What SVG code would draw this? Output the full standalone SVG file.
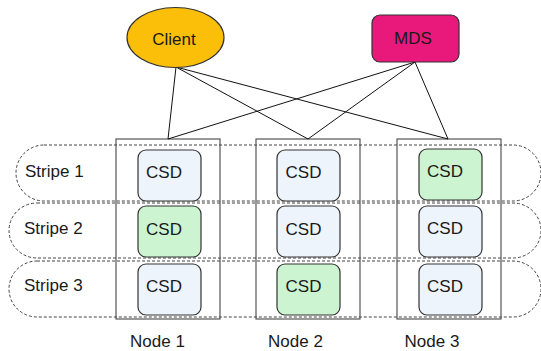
<svg xmlns="http://www.w3.org/2000/svg" width="541" height="351" viewBox="0 0 541 351">
  <style>
    text { font-family: "Liberation Sans", Arial, sans-serif; font-size: 17px; fill: #1a1a1a; }
    .node { fill: none; stroke: #555; stroke-width: 1.2; }
    .stripe { fill: none; stroke: #444; stroke-width: 1; stroke-dasharray: 3 2; }
    .csd { stroke: #333; stroke-width: 1.2; }
    .blue { fill: #eef4fc; }
    .green { fill: #ccf4d0; }
    .link { stroke: #111; stroke-width: 1; fill: none; }
  </style>

  <!-- storage nodes -->
  <g id="node1">
    <rect class="node" x="116" y="139" width="104" height="180"/>
    <text x="157.5" y="346.5" text-anchor="middle">Node 1</text>
  </g>
  <g id="node2">
    <rect class="node" x="256" y="139" width="104" height="180"/>
    <text x="295.5" y="346.5" text-anchor="middle">Node 2</text>
  </g>
  <g id="node3">
    <rect class="node" x="397" y="139" width="104" height="180"/>
    <text x="432" y="346.5" text-anchor="middle">Node 3</text>
  </g>

  <!-- stripes across the nodes -->
  <g id="stripe1">
    <rect class="stripe" x="16" y="145" width="525" height="56" rx="28" ry="28"/>
    <text x="25" y="177">Stripe 1</text>
  </g>
  <g id="stripe2">
    <rect class="stripe" x="9" y="203" width="532" height="55" rx="28" ry="28"/>
    <text x="24" y="234">Stripe 2</text>
  </g>
  <g id="stripe3">
    <rect class="stripe" x="9" y="261" width="532" height="56" rx="28" ry="28"/>
    <text x="24" y="291">Stripe 3</text>
  </g>

  <!-- CSD devices -->
  <g id="csd-1-1"><rect class="csd blue" x="138" y="150" width="63" height="51" rx="8"/><text x="164" y="178" text-anchor="middle">CSD</text></g>
  <g id="csd-1-2"><rect class="csd green" x="138" y="206" width="63" height="51" rx="8"/><text x="164" y="235" text-anchor="middle">CSD</text></g>
  <g id="csd-1-3"><rect class="csd blue" x="138" y="264" width="63" height="51" rx="8"/><text x="164" y="292" text-anchor="middle">CSD</text></g>

  <g id="csd-2-1"><rect class="csd blue" x="277" y="150" width="63" height="51" rx="8"/><text x="303.5" y="178" text-anchor="middle">CSD</text></g>
  <g id="csd-2-2"><rect class="csd blue" x="277" y="206" width="63" height="51" rx="8"/><text x="303.5" y="235" text-anchor="middle">CSD</text></g>
  <g id="csd-2-3"><rect class="csd green" x="277" y="264" width="63" height="51" rx="8"/><text x="303.5" y="292" text-anchor="middle">CSD</text></g>

  <g id="csd-3-1"><rect class="csd green" x="419" y="149" width="63" height="51" rx="8"/><text x="445" y="177" text-anchor="middle">CSD</text></g>
  <g id="csd-3-2"><rect class="csd blue" x="419" y="206" width="63" height="51" rx="8"/><text x="445" y="234" text-anchor="middle">CSD</text></g>
  <g id="csd-3-3"><rect class="csd blue" x="419" y="264" width="63" height="51" rx="8"/><text x="445" y="292" text-anchor="middle">CSD</text></g>

  <!-- links from client and MDS to every node -->
  <g id="connectors">
    <line class="link" x1="176" y1="67" x2="168" y2="139"/>
    <line class="link" x1="176" y1="67" x2="308" y2="139"/>
    <line class="link" x1="176" y1="67" x2="448" y2="139"/>
    <line class="link" x1="415" y1="62" x2="168" y2="139"/>
    <line class="link" x1="415" y1="62" x2="308" y2="139"/>
    <line class="link" x1="415" y1="62" x2="448" y2="139"/>
  </g>

  <g id="client">
    <ellipse cx="175.5" cy="37.5" rx="48.5" ry="30" fill="#fbbf0a" stroke="#333" stroke-width="1.2"/>
    <text x="174" y="45" text-anchor="middle">Client</text>
  </g>
  <g id="mds">
    <rect x="372" y="15" width="87" height="47" rx="8" fill="#e8197b" stroke="#333" stroke-width="1.2"/>
    <text x="413" y="43.5" text-anchor="middle">MDS</text>
  </g>
</svg>
